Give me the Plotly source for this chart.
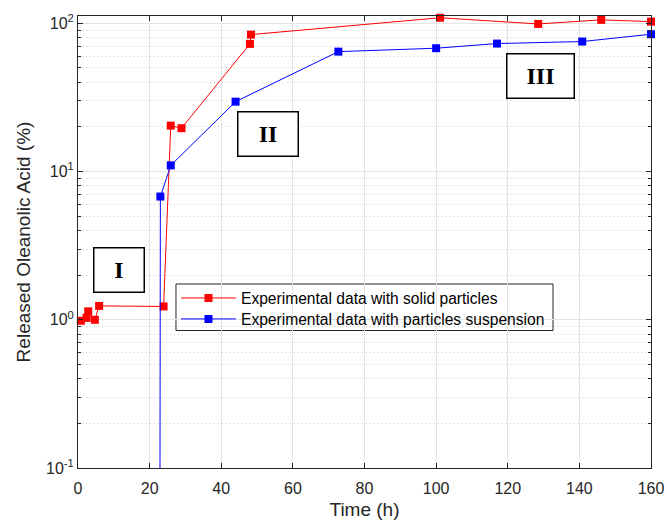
import math
import plotly.graph_objects as go

# Data
time_solid = [0.8, 2.4, 2.85, 4.7, 5.9, 23.9, 25.9, 28.9, 48.0, 48.3, 101.1, 128.5, 146.1, 160.0]
release_solid = [0.985, 1.03, 1.14, 1.0, 1.24, 1.23, 20.4, 19.6, 72.6, 83.9, 109.0, 99.0, 105.5, 102.6]

time_susp = [22.6, 23.0, 25.9, 44.0, 72.7, 100.0, 117.0, 140.8, 160.0]
release_susp = [1e-6, 6.78, 11.0, 29.6, 64.4, 67.9, 73.0, 75.3, 84.4]

name_solid = "Experimental data with solid particles"
name_susp = "Experimental data with particles suspension"

x_ticks = [0, 20, 40, 60, 80, 100, 120, 140, 160]
y_ticks = [0.1, 1, 10, 100]
y_ticktext = ["10<sup>-1</sup>", "10<sup>0</sup>", "10<sup>1</sup>", "10<sup>2</sup>"]
y_minor = [m * d for d in (0.1, 1, 10) for m in range(2, 10)]
y_limits = [0.1, 112]

phase_labels = ["I", "II", "III"]

fig = go.Figure()
fig.add_trace(go.Scatter(
    x=time_solid, y=release_solid, name=name_solid, mode="lines+markers",
    line=dict(color="#ff0000", width=1), cliponaxis=False,
    marker=dict(symbol="square", size=8, color="#ff0000"),
    legend="legend",
))
fig.add_trace(go.Scatter(
    x=time_susp, y=release_susp, name=name_susp, mode="lines+markers",
    line=dict(color="#0000ff", width=1), cliponaxis=False,
    marker=dict(symbol="square", size=8, color="#0000ff"),
    legend="legend2",
))

axis_color = "#262626"
legend_style = dict(
    x=0.171, xanchor="left", yanchor="middle",
    bgcolor="rgba(0,0,0,0)", borderwidth=0,
    font=dict(size=15.6, color="#000000"),
    itemwidth=55,
)
fig.update_layout(
    template="none",
    width=667, height=523,
    margin=dict(l=78, r=16, t=16, b=55),
    plot_bgcolor="white", paper_bgcolor="white",
    font=dict(family="Liberation Sans, Arial, sans-serif", size=16, color=axis_color),
    showlegend=True,
    legend=dict(y=0.3754, **legend_style),
    legend2=dict(y=0.3290, **legend_style),
)
# legend frame
fig.add_shape(
    type="rect", xref="paper", yref="paper",
    x0=0.171, x1=0.829, y0=0.3042, y1=0.4071,
    line=dict(color=axis_color, width=1), fillcolor="white", layer="between",
)
fig.update_xaxes(
    automargin=False,
    range=[0, 160], tickvals=x_ticks, ticks="inside", ticklen=5, tickcolor=axis_color,
    ticklabelstandoff=6,
    showline=True, linecolor=axis_color, linewidth=1, mirror="ticks",
    showgrid=True, gridcolor="#e3e3e3", gridwidth=1, zeroline=False,
    title=dict(text="Time (h)", font=dict(size=19), standoff=6),
    tickfont=dict(size=16),
)
fig.update_yaxes(
    automargin=False,
    type="log", range=[math.log10(v) for v in y_limits], tickvals=y_ticks, ticktext=y_ticktext,
    ticks="inside", ticklen=5, tickcolor=axis_color,
    showline=True, linecolor=axis_color, linewidth=1, mirror="ticks",
    showgrid=True, gridcolor="#e3e3e3", gridwidth=1, zeroline=False,
    minor=dict(tickvals=y_minor, ticks="inside", ticklen=3, tickcolor=axis_color,
               showgrid=True, gridcolor="#cfcfcf", griddash="1px,3px", gridwidth=1),
    title=dict(text="Released Oleanolic Acid (%)", font=dict(size=19), standoff=10),
    tickfont=dict(size=16),
)

boxes = [(0.0724, 0.4374, 49), (0.3323, 0.7385, 59), (0.8063, 0.8666, 66)]
for label, (bx, by, bw) in zip(phase_labels, boxes):
    fig.add_annotation(
        x=bx, y=by, xref="paper", yref="paper", xanchor="center", yanchor="middle",
        text="<b>%s</b>" % label,
        showarrow=False, width=bw, height=43, borderpad=0,
        bordercolor="#000000", borderwidth=1.5, bgcolor="white",
        font=dict(family="Liberation Serif, Times New Roman, serif", size=24, color="#000000"),
    )

fig.write_html("out.html", config={"displayModeBar": False},
               post_script="document.body.style.margin='0';")
